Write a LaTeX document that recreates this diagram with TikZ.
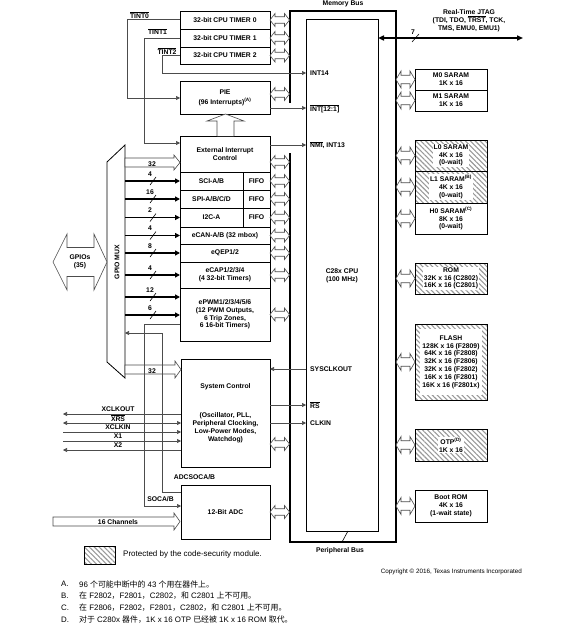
\documentclass[tikz,border=0pt]{standalone}
\usepackage{fontspec}
\setmainfont{Liberation Sans}
\newfontfamily\cjk{Noto Sans CJK SC}
\usetikzlibrary{arrows.meta,patterns.meta}

\newcommand{\dgm}{\fontsize{6.8}{7.8}\selectfont\bfseries}
\newcommand{\ovl}[1]{$\overline{\hbox{#1}}$}

\tikzset{
  pics/dblarr/.style 2 args={code={
    \draw[busarr] (0,0) -- (5,-#2) -- (5,-#2/2) -- (#1-5,-#2/2) -- (#1-5,-#2) -- (#1,0)
      -- (#1-5,#2) -- (#1-5,#2/2) -- (5,#2/2) -- (5,#2) -- cycle;}},
  pics/onearr/.style 2 args={code={
    \draw[busarr] (0,-4.5) -- (#1-6,-4.5) -- (#1-6,-#2) -- (#1,0) -- (#1-6,#2) -- (#1-6,4.5) -- (0,4.5) -- cycle;}},
}

\begin{document}
\begin{tikzpicture}[x=1pt,y=1pt,yscale=-1,
  >={Triangle[length=4pt,width=4pt]},
  box/.style={draw,line width=0.8pt,anchor=north west,outer sep=0pt,inner sep=1pt,align=center,font=\dgm,minimum width=90pt},
  mem/.style={box,minimum width=72pt},
  hatch/.style={mem,pattern={Lines[angle=-45,distance=3.5pt,line width=1.1pt]},pattern color=black!40},
  cover/.style={fill=white,inner sep=1pt,align=center,font=\dgm},
  lbl/.style={inner sep=0pt,font=\dgm},
  note/.style={anchor=west,inner sep=0pt,font=\fontsize{7.9}{9}\selectfont},
  sig/.style={line width=0.6pt,draw=black!70},
  wide/.style={line width=1.3pt,-{Triangle[length=5pt,width=5pt]}},
  jtag/.style={line width=1.5pt,{Triangle[length=6pt,width=5pt]}-{Triangle[length=6pt,width=5pt]}},
  busarr/.style={line width=0.6pt,draw=black!70,fill=white},
  bus/.style={line width=1.6pt},
  tick/.style={line width=0.6pt}]
\useasboundingbox (0,0) rectangle (588,626);

% memory bus / peripheral bus
\draw[bus] (290,103) -- (290,11) -- (396,11) -- (396,542) -- (290,542) -- (290,153);
\node[lbl] (membus) at (343,4) {Memory Bus};
\node[lbl] (perbus) at (340,551) {Peripheral Bus};

% CPU
\node[box,minimum width=72pt,minimum height=511pt,line width=1pt] (cpu) at (306,20) {C28x CPU\\(100 MHz)};
\draw[tick] (342,542) -- (348,531);
\node[lbl,anchor=west] (lint14) at (310,73) {INT14};
\node[lbl,anchor=west] (lint121) at (310,108.5) {\ovl{INT[12:1]}};
\node[lbl,anchor=west] (lnmi) at (310,145) {\ovl{NMI}, INT13};
\node[lbl,anchor=west] (lsysclk) at (310,369) {SYSCLKOUT};
\node[lbl,anchor=west] (lrs) at (310,405) {\ovl{RS}};
\node[lbl,anchor=west] (lclkin) at (310,423) {CLKIN};

% JTAG
\coordinate (jtagR) at (523,38);
\draw[jtag] (cpu.east |- jtagR) -- (jtagR);
\draw[tick] (412,42) -- (419,34);
\node[lbl] (jtagw) at (413,32) {7};
\node[lbl,align=center] (ljtag) at (469,21) {Real-Time JTAG\\(TDI, TDO, \ovl{TRST}, TCK,\\TMS, EMU0, EMU1)};

% timers, PIE, peripherals
\node[box,minimum height=18pt] (tmrA) at (180,11) {32-bit CPU TIMER 0};
\node[box,minimum height=18pt] (tmrB) at (180,29) {32-bit CPU TIMER 1};
\node[box,minimum height=17pt] (tmrC) at (180,47) {32-bit CPU TIMER 2};
\node[box,minimum height=33pt] (pie) at (180,81) {PIE\\[2pt](96 Interrupts)\textsuperscript{(A)}};
\node[box,minimum height=36pt] (eic) at (180,136) {External Interrupt\\Control};
\node[box,minimum width=63pt,minimum height=18pt] (sci) at (180,172) {SCI-A/B};
\node[box,minimum width=27pt,minimum height=18pt] (scififo) at (243,172) {FIFO};
\node[box,minimum width=63pt,minimum height=18pt] (spi) at (180,190) {SPI-A/B/C/D};
\node[box,minimum width=27pt,minimum height=18pt] (spififo) at (243,190) {FIFO};
\node[box,minimum width=63pt,minimum height=19pt] (iic) at (180,208) {I2C-A};
\node[box,minimum width=27pt,minimum height=19pt] (iicfifo) at (243,208) {FIFO};
\node[box,minimum height=17pt] (ecan) at (180,227) {eCAN-A/B (32 mbox)};
\node[box,minimum height=18pt] (eqep) at (180,244) {eQEP1/2};
\node[box,minimum height=26pt] (ecap) at (180,262) {eCAP1/2/3/4\\(4 32-bit Timers)};
\node[box,minimum height=53pt] (epwm) at (180,288) {ePWM1/2/3/4/5/6\\(12 PWM Outputs,\\6 Trip Zones,\\6 16-bit Timers)};
\node[box,minimum width=89pt,minimum height=108pt] (sysctl) at (181,359) {System Control\\[22pt](Oscillator, PLL,\\Peripheral Clocking,\\Low-Power Modes,\\Watchdog)};
\node[box,minimum width=89pt,minimum height=54pt] (adc) at (181,485) {12-Bit ADC};

% memories
\node[mem,minimum height=21pt] (mzero) at (415,69) {M0 SARAM\\1K x 16};
\node[mem,minimum height=21pt] (mone) at (415,90) {M1 SARAM\\1K x 16};
\node[hatch,minimum height=31pt] (lzero) at (415,140) {};
\node[cover] (lzerotxt) at (lzero.center) {L0 SARAM\\4K x 16\\(0-wait)};
\node[hatch,minimum height=32pt] (lone) at (415,171) {};
\node[cover] (lonetxt) at (lone.center) {L1 SARAM\textsuperscript{(B)}\\4K x 16\\(0-wait)};
\node[mem,minimum height=31pt] (hzero) at (415,203) {H0 SARAM\textsuperscript{(C)}\\8K x 16\\(0-wait)};
\node[hatch,minimum height=31pt] (rom) at (415,263) {};
\node[cover] (romtxt) at (rom.center) {ROM\\32K x 16 (C2802)\\16K x 16 (C2801)};
\node[hatch,minimum height=76pt] (flash) at (415,324) {};
\node[cover,minimum width=62pt,minimum height=66pt] (flashtxt) at (flash.center) {FLASH\\128K x 16 (F2809)\\64K x 16 (F2808)\\32K x 16 (F2806)\\32K x 16 (F2802)\\16K x 16 (F2801)\\16K x 16 (F2801x)};
\node[hatch,minimum height=32pt] (otp) at (415,429) {};
\node[cover] (otptxt) at (otp.center) {OTP\textsuperscript{(D)}\\1K x 16};
\node[mem,minimum height=32pt] (boot) at (415,490) {Boot ROM\\4K x 16\\(1-wait state)};

% bus links
\foreach \n in {tmrA,tmrB,tmrC,scififo,spififo,iicfifo,ecan,eqep,ecap,epwm,adc}
  \pic at (\n.east) {dblarr={19.5}{6.5}};
\pic at (pie.east |- 0,94) {dblarr={19.5}{6.5}};
\pic at (eic.east |- 0,162) {dblarr={19.5}{6.5}};
\pic at (sysctl.east |- 0,444) {dblarr={19.5}{6.5}};
\foreach \n in {mzero,mone,lzero,lone,hzero,rom,flash,otp,boot}
  \pic at (\n.west -| 396,0) {dblarr={19}{8.5}};
\draw[busarr] (217,136) -- (217,121) -- (207,121) -- (225.5,114) -- (244,121) -- (234,121) -- (234,136);

% interrupt lines
\draw[sig,->] (tmrA.west |- 0,19) -- (127,19) |- (pie.west |- 0,98);
\draw[sig,->] (tmrB.west) -- (144,38) |- (eic.west |- 0,143);
\draw[sig,->] (tmrC.west) -- (162,55.5) |- (cpu.west |- 0,73);
\node[lbl] (ltint0) at (139.5,15) {\ovl{TINT0}};
\node[lbl] (ltint1) at (157.5,31.5) {\ovl{TINT1}};
\node[lbl] (ltint2) at (167,51) {\ovl{TINT2}};
\draw[sig,->] (pie.east |- 0,108) -- (cpu.west |- 0,108);
\draw[sig,->] (eic.east |- 0,145) -- (cpu.west |- 0,145);

% GPIO mux
\draw[line width=0.8pt] (107,162) -- (125,145) -- (125,378) -- (107,362) -- cycle;
\coordinate (muxR) at (125,0);
\node[lbl,rotate=90] (muxlbl) at (117,262) {GPIO MUX};
\draw[busarr] (53,262) -- (67,234) -- (67,247.5) -- (94,247.5) -- (94,234) -- (107,262)
  -- (94,290) -- (94,276.5) -- (67,276.5) -- (67,290) -- cycle;
\node[lbl,align=center] (gpios) at (80,262) {GPIOs\\(35)};

\foreach \n in {sci,spi,iic,ecan,eqep,ecap}
  \draw[wide] (muxR |- \n.west) -- (\n.west);
\draw[wide] (muxR |- 0,297) -- (epwm.west |- 0,297);
\draw[wide] (muxR |- 0,315) -- (epwm.west |- 0,315);
\foreach \y/\w [count=\i] in {181/4,199/16,217.5/2,235.5/4,253/8,275/4,297/12,315/6} {
  \draw[tick] (150,\y+4) -- (156,\y-4);
  \node[lbl] (wd\i) at (150,\y-7) {\w};
}
\pic at (muxR |- 0,162.5) {onearr={55}{7.5}};
\node[lbl] (weic) at (152,164) {32};
\pic at (muxR |- 0,369.5) {onearr={56}{8.5}};
\node[lbl] (wsys) at (152,371) {32};

% ADC start-of-conversion lines
\draw[sig,->] (adc.west |- 0,492) -- (162,492) -- (162,333) -- (muxR |- 0,333);
\draw[sig,->] (epwm.west |- 0,324) -- (144,324) -- (144,506) -- (adc.west |- 0,506);
\node[lbl] (ladcsoc) at (194.5,477) {ADCSOCA/B};
\node[lbl] (lsoca) at (160.5,499.5) {SOCA/B};

% system control signals
\draw[sig,->] (cpu.west |- 0,369) -- (sysctl.east |- 0,369);
\draw[sig,->] (sysctl.east |- 0,405) -- (cpu.west |- 0,405);
\draw[sig,->] (sysctl.east |- 0,423) -- (cpu.west |- 0,423);
\coordinate (pxclkout) at (63,414);
\coordinate (pxrs) at (63,423);
\coordinate (pxclkin) at (63,432);
\coordinate (pxone) at (63,441);
\coordinate (pxtwo) at (63,450);
\draw[sig,<-] (pxclkout) -- (pxclkout -| sysctl.west);
\draw[sig,<->] (pxrs) -- (pxrs -| sysctl.west);
\draw[sig,->] (pxclkin) -- (pxclkin -| sysctl.west);
\draw[sig,->] (pxone) -- (pxone -| sysctl.west);
\draw[sig,<-] (pxtwo) -- (pxtwo -| sysctl.west);
\node[lbl] (lxclkout) at (118,409.5) {XCLKOUT};
\node[lbl] (lxrs) at (118,418.5) {\ovl{XRS}};
\node[lbl] (lxclkin) at (118,427.5) {XCLKIN};
\node[lbl] (lxone) at (118,436.5) {X1};
\node[lbl] (lxtwo) at (118,445.5) {X2};

% analog channels
\coordinate (chan) at (53,521.5);
\pic at (chan) {onearr={127}{8.5}};
\node[lbl] (lchan) at (118,522) {16 Channels};

% legend and notes
\node[hatch,minimum width=31pt,minimum height=18pt] (legbox) at (84,546) {};
\node[anchor=west,inner sep=0pt,font=\fontsize{8}{9}\selectfont] (legtxt) at (123,554) {Protected by the code-security module.};
\node[anchor=east,inner sep=0pt,font=\fontsize{6.3}{7}\selectfont] (copy) at (522,572) {Copyright © 2016, Texas Instruments Incorporated};
\node[note] (na) at (61,584) {A.};
\node[note] (nb) at (61,596) {B.};
\node[note] (nc) at (61,608) {C.};
\node[note] (nd) at (61,619.5) {D.};
\node[note] (nat) at (79,584) {96 {\cjk 个可能中断中的} 43 {\cjk 个用在器件上。}};
\node[note] (nbt) at (79,596) {{\cjk 在} F2802{\cjk ，}F2801{\cjk ，}C2802{\cjk ，和} C2801 {\cjk 上不可用。}};
\node[note] (nct) at (79,608) {{\cjk 在} F2806{\cjk ，}F2802{\cjk ，}F2801{\cjk ，}C2802{\cjk ，和} C2801 {\cjk 上不可用。}};
\node[note] (ndt) at (79,619.5) {{\cjk 对于} C280x {\cjk 器件，}1K x 16 OTP {\cjk 已经被} 1K x 16 ROM {\cjk 取代。}};
\end{tikzpicture}
\end{document}
